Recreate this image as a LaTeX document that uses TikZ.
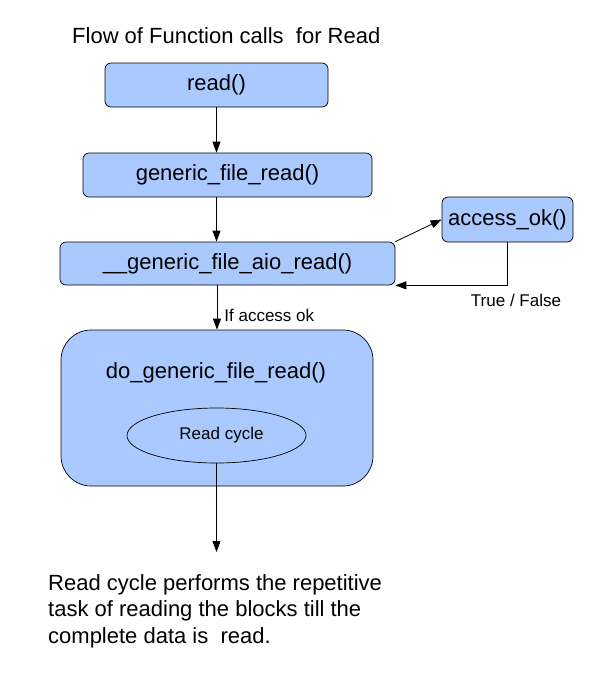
\documentclass[tikz,border=0pt]{standalone}
\usepackage{fontspec}
\setmainfont{Liberation Sans}
\usetikzlibrary{arrows.meta}
\usetikzlibrary{shapes.geometric}

\definecolor{callblue}{RGB}{170,202,255}

\begin{document}
\begin{tikzpicture}[x=1pt, y=-1pt,
    call/.style={rectangle, draw, fill=callblue, rounded corners=6pt, line width=0.7pt, inner sep=0pt, font=\fontsize{22}{26}\selectfont},
    flow/.style={-{Triangle[length=11pt, width=8pt]}, line width=0.8pt},
    small/.style={font=\fontsize{17}{20}\selectfont}]
    \useasboundingbox (0,0) rectangle (589,678);

    \node[anchor=base west, inner sep=0pt, font=\fontsize{22}{26}\selectfont] (title) at (72,43) {Flow of Function calls~ for Read};

    \node[call, minimum width=223pt, minimum height=44pt] (read) at (216.5,85) {read()};
    \node[call, minimum width=289pt, minimum height=44pt] (gfr) at (227.5,175) {generic\_file\_read()};
    \node[call, minimum width=335pt, minimum height=43pt] (aio) at (227.5,263.5) {\_\_generic\_file\_aio\_read()};
    \node[call, minimum width=131pt, minimum height=45pt] (acc) at (507.5,219.5) {access\_ok()};
    \node[call, rounded corners=30pt, minimum width=312pt, minimum height=156pt] (do) at (217,408) {};
    \node[inner sep=0pt, font=\fontsize{22}{26}\selectfont] (dotext) at (216,373) {do\_generic\_file\_read()};
    \node[ellipse, draw, fill=callblue, line width=0.7pt, inner sep=0pt, minimum width=179pt, minimum height=55pt, small] (cycle) at (216.5,435.5) {\hspace{10pt}Read cycle};
    \coordinate (end) at (216.5,552);
    \node[anchor=north west, inner sep=0pt, align=left, font=\fontsize{22}{26.7}\selectfont] (note) at (48,574) {Read cycle performs the repetitive\\task of reading the blocks till the\\complete data is~ read.};

    \draw[flow] (read) -- (read |- gfr.north);
    \draw[flow] (gfr.south -| read) -- (aio.north -| read);
    \draw[flow] (aio.south -| do) -- (do.north) node[right, pos=0.68, small, inner sep=7pt] {If access ok};
    \draw[flow] (aio.north east) -- (acc.west);
    \draw[flow] (acc.south) |- (aio.south east);
    \node[small] (tf) at (516,300) {True / False};
    \draw[flow] (cycle.south) -- (end);
  \end{tikzpicture}
\end{document}
